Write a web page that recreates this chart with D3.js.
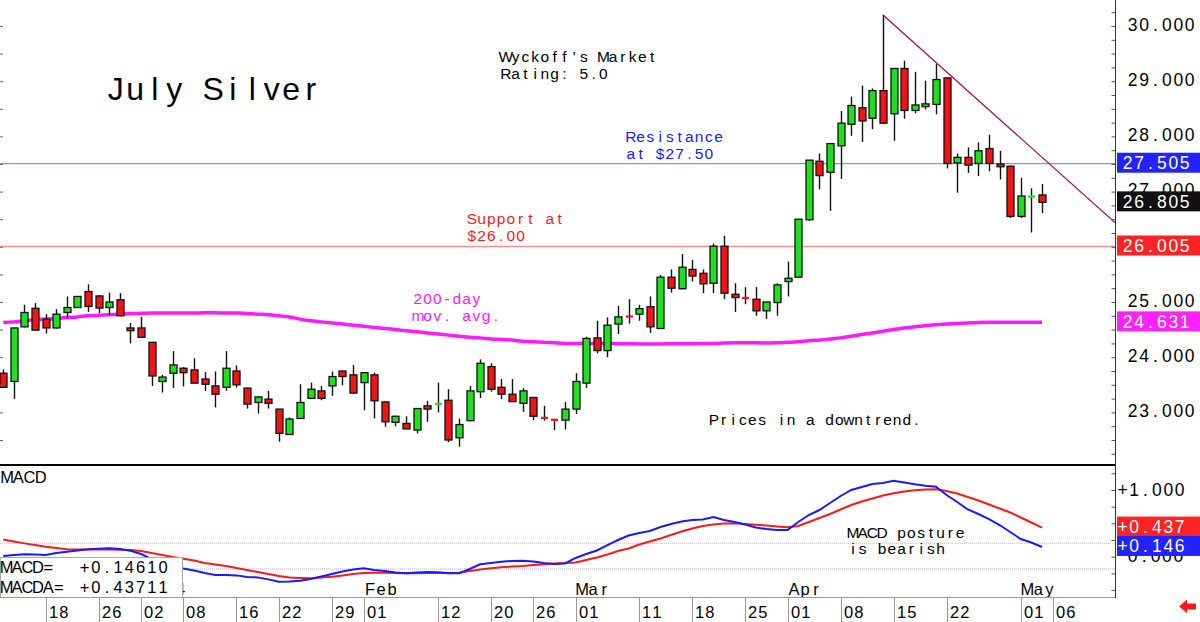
<!DOCTYPE html>
<html><head><meta charset="utf-8">
<script src="https://cdn.jsdelivr.net/npm/d3@7"></script>
<style>html,body{margin:0;padding:0;background:#fff;} svg{display:block;} text{white-space:pre;}</style>
</head><body><svg id="c" width="1200" height="622"></svg>
<script>
// ---------------- DATA ----------------
const dates = [
"2023-12-12","2023-12-13","2023-12-14","2023-12-15","2023-12-18","2023-12-19","2023-12-20","2023-12-21","2023-12-22","2023-12-26","2023-12-27","2023-12-28","2023-12-29",
"2024-01-02","2024-01-03","2024-01-04","2024-01-05","2024-01-08","2024-01-09","2024-01-10","2024-01-11","2024-01-12","2024-01-16","2024-01-17","2024-01-18","2024-01-19","2024-01-22","2024-01-23","2024-01-24","2024-01-25","2024-01-26","2024-01-29","2024-01-30","2024-01-31",
"2024-02-01","2024-02-02","2024-02-05","2024-02-06","2024-02-07","2024-02-08","2024-02-09","2024-02-12","2024-02-13","2024-02-14","2024-02-15","2024-02-16","2024-02-20","2024-02-21","2024-02-22","2024-02-23","2024-02-26","2024-02-27","2024-02-28","2024-02-29",
"2024-03-01","2024-03-04","2024-03-05","2024-03-06","2024-03-07","2024-03-08","2024-03-11","2024-03-12","2024-03-13","2024-03-14","2024-03-15","2024-03-18","2024-03-19","2024-03-20","2024-03-21","2024-03-22","2024-03-25","2024-03-26","2024-03-27","2024-03-28",
"2024-04-01","2024-04-02","2024-04-03","2024-04-04","2024-04-05","2024-04-08","2024-04-09","2024-04-10","2024-04-11","2024-04-12","2024-04-15","2024-04-16","2024-04-17","2024-04-18","2024-04-19","2024-04-22","2024-04-23","2024-04-24","2024-04-25","2024-04-26","2024-04-29","2024-04-30",
"2024-05-01","2024-05-02","2024-05-03"];
const futureDates = ["2024-05-06"];

const open = [23.71,23.56,24.55,24.886,24.69,24.53,24.81,24.90,25.19,25.11,24.90,25.04,24.53,
24.53,24.27,23.56,23.71,23.80,23.77,23.605,23.48,23.455,23.75,23.44,23.18,23.24,23.06,22.60,22.89,23.255,23.39,23.48,23.75,23.68,
23.54,23.68,23.19,22.82,22.80,22.68,23.12,23.15,23.22,22.54,22.85,23.375,23.83,23.455,23.33,23.165,23.27,22.91,22.875,22.86,
23.06,23.53,24.35,24.12,24.60,24.75,24.78,24.915,24.52,25.45,25.24,25.59,25.52,25.34,26.01,25.14,25.08,25.05,24.84,24.99,
25.37,25.45,26.49,27.55,27.35,27.83,28.22,28.52,28.33,28.83,28.41,29.23,28.47,28.54,28.58,29.06,27.52,27.62,27.51,27.78,27.50,27.46,
26.55,26.905,26.94];
const high = [23.78,24.53,24.95,24.98,24.78,24.87,25.10,25.11,25.32,25.12,25.17,25.16,24.62,
24.73,24.27,23.68,24.11,23.82,23.98,23.73,23.74,24.11,23.85,23.45,23.29,23.39,23.06,22.91,23.51,23.54,23.48,23.74,23.76,23.86,
23.73,23.72,23.20,22.94,22.93,23.08,23.21,23.54,23.42,22.89,23.48,23.96,23.89,23.605,23.605,23.44,23.28,23.12,22.88,23.19,
23.71,24.37,24.66,24.72,24.93,25.05,24.95,25.10,25.49,25.59,25.87,25.76,25.59,26.06,26.20,25.34,25.27,25.27,25.00,25.34,
25.73,26.50,27.57,27.69,27.88,28.46,28.72,28.92,28.87,30.20,29.24,29.37,29.17,29.01,29.31,29.07,27.69,27.80,27.89,28.03,27.74,27.47,
27.25,27.06,27.14];
const low = [23.44,23.24,24.54,24.49,24.43,24.52,24.72,24.89,24.82,24.80,24.76,24.74,24.25,
24.36,23.48,23.36,23.44,23.47,23.53,23.39,23.09,23.39,23.45,23.07,22.98,23.07,22.47,22.60,22.88,23.25,23.22,23.30,23.49,23.34,
23.04,22.89,22.74,22.75,22.70,22.62,22.83,23.00,22.46,22.38,22.84,23.26,23.375,23.24,23.19,23.01,22.86,22.85,22.68,22.69,
22.97,23.44,24.07,24.00,24.42,24.61,24.66,24.44,24.51,25.17,25.23,25.37,25.16,25.16,25.05,24.82,24.96,24.75,24.69,24.75,
25.10,25.44,26.47,27.04,26.65,27.23,28.01,27.90,28.13,28.23,27.92,28.32,28.42,28.49,28.40,27.42,26.98,27.34,27.28,27.37,27.22,26.52,
26.52,26.26,26.61];
const close = [23.455,24.53,24.81,24.49,24.53,24.78,24.90,25.10,24.92,24.89,25.00,24.75,24.48,
24.36,23.66,23.64,23.86,23.72,23.53,23.51,23.33,23.80,23.50,23.15,23.28,23.165,22.62,22.88,23.18,23.42,23.255,23.65,23.65,23.35,
23.72,23.21,22.83,22.93,22.70,23.07,23.06,23.165,22.50,22.78,23.39,23.89,23.42,23.33,23.195,23.39,22.93,22.895,22.86,23.06,
23.56,24.34,24.12,24.58,24.73,24.73,24.88,24.55,25.45,25.25,25.63,25.47,25.33,26.01,25.16,25.08,25.07,24.84,25.00,25.31,
25.43,26.50,27.57,27.29,27.87,28.24,28.56,28.28,28.83,28.24,29.23,28.47,28.57,28.59,29.03,27.51,27.62,27.48,27.74,27.51,27.45,26.55,
26.92,26.92,26.805];

const ma200 = [24.63,24.64,24.66,24.68,24.69,24.70,24.72,24.73,24.75,24.76,24.77,24.78,24.79,
24.795,24.80,24.80,24.80,24.80,24.80,24.805,24.805,24.80,24.80,24.79,24.78,24.77,24.75,24.73,24.69,24.66,24.64,24.62,24.60,24.58,
24.56,24.54,24.52,24.50,24.48,24.46,24.44,24.42,24.40,24.38,24.36,24.35,24.33,24.32,24.31,24.29,24.28,24.27,24.26,24.25,
24.25,24.25,24.25,24.25,24.245,24.245,24.24,24.24,24.24,24.245,24.245,24.245,24.25,24.25,24.255,24.26,24.26,24.26,24.255,24.26,
24.27,24.28,24.30,24.31,24.33,24.35,24.38,24.41,24.44,24.47,24.50,24.53,24.55,24.57,24.59,24.60,24.61,24.62,24.63,24.635,24.635,24.635,
24.633,24.632,24.631];

const macd = [0.01,0.025,0.036,0.033,0.025,0.055,0.075,0.093,0.111,0.12,0.126,0.115,0.09,
0.04,-0.035,-0.095,-0.14,-0.177,-0.207,-0.244,-0.274,-0.274,-0.28,-0.304,-0.31,-0.34,-0.375,-0.372,-0.36,-0.334,-0.297,-0.26,-0.222,-0.192,
-0.174,-0.2,-0.214,-0.237,-0.249,-0.237,-0.229,-0.234,-0.249,-0.249,-0.184,-0.114,-0.094,-0.075,-0.064,-0.06,-0.072,-0.094,-0.109,-0.102,
-0.019,0.04,0.093,0.175,0.25,0.318,0.355,0.385,0.445,0.49,0.528,0.55,0.558,0.595,0.55,0.52,0.483,0.438,0.415,0.40,
0.40,0.52,0.625,0.70,0.805,0.91,1.0,1.045,1.09,1.105,1.14,1.112,1.085,1.065,1.05,0.925,0.82,0.708,0.64,0.565,0.475,0.37,
0.265,0.213,0.146];
const signal = [0.258,0.228,0.2,0.175,0.15,0.13,0.111,0.108,0.108,0.111,0.108,0.105,0.10,
0.085,0.055,0.025,-0.005,-0.03,-0.057,-0.094,-0.117,-0.139,-0.169,-0.2,-0.229,-0.259,-0.289,-0.312,-0.319,-0.324,-0.312,-0.3,-0.282,-0.259,
-0.244,-0.24,-0.24,-0.244,-0.249,-0.249,-0.244,-0.244,-0.244,-0.24,-0.214,-0.192,-0.174,-0.159,-0.147,-0.139,-0.124,-0.112,-0.102,-0.094,
-0.087,-0.05,-0.012,0.033,0.085,0.123,0.183,0.228,0.273,0.325,0.378,0.423,0.46,0.483,0.498,0.5,0.49,0.48,0.468,0.453,
0.44,0.46,0.52,0.58,0.64,0.708,0.775,0.828,0.873,0.918,0.95,0.978,0.997,1.007,1.01,0.985,0.948,0.895,0.843,0.783,0.723,0.663,
0.588,0.513,0.437];

const priceTicks = [23,24,25,26,27,28,29,30];
const macdTicks = [0,1];
const dateTicks = ["2023-12-18","2023-12-26","2024-01-02","2024-01-08","2024-01-16","2024-01-22","2024-01-29","2024-02-01","2024-02-12","2024-02-20","2024-02-26","2024-03-01","2024-03-11","2024-03-18","2024-03-25","2024-04-01","2024-04-08","2024-04-15","2024-04-22","2024-05-01","2024-05-06"];
const dateTickLabels = ["18","26","02","08","16","22","29","01","12","20","26","01","11","18","25","01","08","15","22","01","06"];
const monthDates = ["2024-01-02","2024-02-01","2024-03-01","2024-04-01","2024-05-01"];
const monthLabels = ["2024","Feb","Mar","Apr","May"];
const supportLevel = 26.005;
const resistanceLevel = 27.505;
const trendDates = ["2024-04-12","2024-05-06"];
const trendPrices = [30.20, 27.45];
const priceMarkers = [27.505, 26.805, 26.005, 24.631];
const macdMarkers = [0.437, 0.146];
const macdLevels = [0.20, -0.185];
const legendNames = ["MACD=","MACDA="];
const legendValues = ["+0.14610","+0.43711"];

// ---------------- DRAW ----------------
const svg = d3.select("#c");
const FONT = "'Liberation Sans', Arial, Helvetica, sans-serif";
const allDates = dates.concat(futureDates);
const PLOT_R = 1115;
const x = d3.scaleLinear().domain([0, dates.length - 1]).range([3.3, 1042]);
const xd = d => x(allDates.indexOf(d));
const y = d3.scaleLinear().domain([23, 30]).range([412.4, 26]);
const ym = d3.scaleLinear().domain([0, 1]).range([556.7, 490]);

function mono(g, x0, yy, str, size, adv, fill) {
  const xs = Array.from(str, (ch, i) => (x0 + adv * (i + 0.5)).toFixed(2));
  return g.append("text").attr("x", xs.join(" ")).attr("y", yy)
    .attr("font-size", size).attr("font-family", FONT)
    .attr("text-anchor", "middle").attr("fill", fill).text(str);
}

const defs = svg.append("defs");
defs.append("clipPath").attr("id", "cp").append("rect").attr("x", 0).attr("y", 0).attr("width", PLOT_R).attr("height", 464);
defs.append("clipPath").attr("id", "cm").append("rect").attr("x", 0).attr("y", 467).attr("width", PLOT_R).attr("height", 130);

svg.append("rect").attr("width", 1200).attr("height", 622).attr("fill", "#fff");

// ---- price panel ----
const gp = svg.append("g").attr("clip-path", "url(#cp)");
gp.append("line").attr("x1", 0).attr("x2", PLOT_R).attr("y1", y(resistanceLevel)).attr("y2", y(resistanceLevel))
  .attr("stroke", "#8c8cff").attr("stroke-width", 1.3);
gp.append("line").attr("x1", 0).attr("x2", PLOT_R).attr("y1", y(supportLevel)).attr("y2", y(supportLevel))
  .attr("stroke", "#ff9090").attr("stroke-width", 1.3);

gp.append("path").datum(ma200)
  .attr("d", d3.line().x((d, i) => x(i)).y(d => y(d)).curve(d3.curveMonotoneX))
  .attr("fill", "none").attr("stroke", "#ff19ff").attr("stroke-width", 3.5);

{
  const i0 = allDates.indexOf(trendDates[0]), i1 = allDates.indexOf(trendDates[1]);
  const slope = (trendPrices[1] - trendPrices[0]) / (i1 - i0);
  const iEnd = x.invert(PLOT_R);
  gp.append("line").attr("x1", x(i0)).attr("y1", y(trendPrices[0]))
    .attr("x2", x(iEnd)).attr("y2", y(trendPrices[0] + slope * (iEnd - i0)))
    .attr("stroke", "#a0124e").attr("stroke-width", 1.3);
}

const GREEN = "#1fe01f", RED = "#f21414";
const candles = gp.append("g");
dates.forEach((d, i) => {
  const cx = Math.round(x(i)) + 0.5;
  const up = close[i] >= open[i];
  const col = up ? GREEN : RED;
  candles.append("line").attr("x1", cx).attr("x2", cx).attr("y1", y(high[i])).attr("y2", y(low[i]))
    .attr("stroke", "#111").attr("stroke-width", 1.4);
  const yt = y(Math.max(open[i], close[i])), yb = y(Math.min(open[i], close[i]));
  if (yb - yt < 2) {
    candles.append("rect").attr("x", cx - 3.5).attr("y", (yt + yb) / 2 - 1).attr("width", 7).attr("height", 2.2).attr("fill", col);
  } else {
    candles.append("rect").attr("x", cx - 3.5).attr("y", yt).attr("width", 7).attr("height", yb - yt)
      .attr("fill", col).attr("stroke", "#111").attr("stroke-width", 1.3);
  }
});

const ann = svg.append("g");
mono(ann, 106, 100, "July Silver", 32, 19.5, "#000");
mono(ann, 501, 62, "Wyckoff's Market", 15.5, 9.75, "#000");
mono(ann, 501, 79, "Rating: 5.0", 15.5, 9.75, "#000");
mono(ann, 626, 142, "Resistance", 15.5, 9.75, "#1a1aff");
mono(ann, 626, 159, "at $27.50", 15.5, 9.75, "#1a1aff");
mono(ann, 467, 224, "Support at", 15.5, 9.75, "#ff1a1a");
mono(ann, 467, 241, "$26.00", 15.5, 9.75, "#ff1a1a");
mono(ann, 413, 304, "200-day", 15.5, 9.75, "#ff19ff");
mono(ann, 413, 321, "mov. avg.", 15.5, 9.75, "#ff19ff");
mono(ann, 709, 425, "Prices in a downtrend.", 15.5, 9.65, "#000");

svg.append("line").attr("x1", 0).attr("x2", PLOT_R).attr("y1", 465).attr("y2", 465).attr("stroke", "#000").attr("stroke-width", 2);

// ---- MACD panel ----
const gm = svg.append("g").attr("clip-path", "url(#cm)");
gm.append("line").attr("x1", 0).attr("x2", PLOT_R).attr("y1", ym(macdLevels[0])).attr("y2", ym(macdLevels[0]))
  .attr("stroke", "#ff9a9a").attr("stroke-width", 0.8).attr("stroke-dasharray", "1,1");
gm.append("line").attr("x1", 0).attr("x2", PLOT_R).attr("y1", ym(macdLevels[1])).attr("y2", ym(macdLevels[1]))
  .attr("stroke", "#9a9aff").attr("stroke-width", 0.8).attr("stroke-dasharray", "1,1");
const lineM = d3.line().x((d, i) => x(i)).y(d => ym(d));
gm.append("path").datum(signal).attr("d", lineM).attr("fill", "none").attr("stroke", "#ff1a1a").attr("stroke-width", 2);
gm.append("path").datum(macd).attr("d", lineM).attr("fill", "none").attr("stroke", "#1a1aff").attr("stroke-width", 2);

mono(svg, 1.5, 483, "MACD", 16.5, 11.2, "#000");
mono(svg, 848, 538, "MACD posture", 15.5, 9.75, "#000");
mono(svg, 848, 554, "is bearish", 15.5, 9.75, "#000");

monthDates.forEach((d, k) => mono(svg, xd(d) + 1, 595, monthLabels[k], 16.5, 11, "#000"));

svg.append("rect").attr("x", 0.5).attr("y", 557.5).attr("width", 182).attr("height", 40).attr("fill", "#fff").attr("stroke", "#aaa");
legendNames.forEach((n, k) => {
  mono(svg, 1.5, 573 + k * 20, n, 16.5, 10.4, "#000");
  mono(svg, 79, 573 + k * 20, legendValues[k], 16.5, 11.2, "#000");
});

// ---- date axis ----
svg.append("line").attr("x1", 0).attr("x2", PLOT_R).attr("y1", 597.5).attr("y2", 597.5).attr("stroke", "#999");
dateTicks.forEach((d, k) => {
  const tx = Math.round(xd(d)) + 0.5;
  svg.append("line").attr("x1", tx).attr("x2", tx).attr("y1", 598).attr("y2", 622).attr("stroke", "#999");
  mono(svg, tx + 2, 618, dateTickLabels[k], 16.5, 10.2, "#000");
});

// ---- right axes ----
const axP = d3.axisLeft(y).tickValues(d3.range(22.25, 30.5, 0.25)).tickSize(4).tickFormat("");
const gax = svg.append("g").attr("transform", `translate(${PLOT_R + 0.5},0)`).call(axP);
const axM = d3.axisLeft(ym).tickValues(d3.range(-0.5, 1.5, 0.25)).tickSize(4).tickFormat("");
const gaxm = svg.append("g").attr("transform", `translate(${PLOT_R + 0.5},0)`).call(axM);
[gax, gaxm].forEach(g => { g.select(".domain").remove(); g.selectAll("line").attr("stroke", "#555"); });
svg.append("line").attr("x1", PLOT_R + 0.5).attr("x2", PLOT_R + 0.5).attr("y1", 0).attr("y2", 598).attr("stroke", "#333");
const axL = d3.axisRight(y).tickValues(d3.range(22.5, 30.5, 0.5)).tickSize(3).tickFormat("");
const gl = svg.append("g").attr("clip-path", "url(#cp)").call(axL);
gl.select(".domain").remove(); gl.selectAll("line").attr("stroke", "#666");

// tick labels (skip ones fully hidden under a value marker)
priceTicks.filter(v => !priceMarkers.some(m => Math.abs(y(m) - y(v)) < 5))
  .forEach(v => mono(svg, 1127, y(v) + 4.5, v.toFixed(3), 17.5, 11.4, "#000"));
mono(svg, 1117, ym(1) + 5.5, "+" + (1).toFixed(3), 17.5, 11.4, "#000");
mono(svg, 1127, ym(0) + 5.5, (0).toFixed(3), 17.5, 11.4, "#000");

const pCols = ["#2323ff", "#111111", "#ff2323", "#ff22ff"];
priceMarkers.forEach((v, k) => {
  svg.append("rect").attr("x", 1117).attr("y", y(v) - 11).attr("width", 83).attr("height", 20).attr("fill", pCols[k]);
  mono(svg, 1122, y(v) + 5.5, v.toFixed(3), 17.5, 11.4, "#fff");
});
const mCols = ["#ff2323", "#2323ff"];
macdMarkers.forEach((v, k) => {
  const yy = ym(v) - 1;
  svg.append("rect").attr("x", 1117).attr("y", yy - 10).attr("width", 83).attr("height", 20).attr("fill", mCols[k]);
  mono(svg, 1117, yy + 6.5, "+" + v.toFixed(3), 17.5, 11.4, "#fff");
});

svg.append("path").attr("d", "M1196,603.5 L1187,603.5 L1187,599.5 L1179,606.5 L1187,613 L1187,609.5 L1196,609.5 Z").attr("fill", "#ff1a1a");
</script>
</body></html>
